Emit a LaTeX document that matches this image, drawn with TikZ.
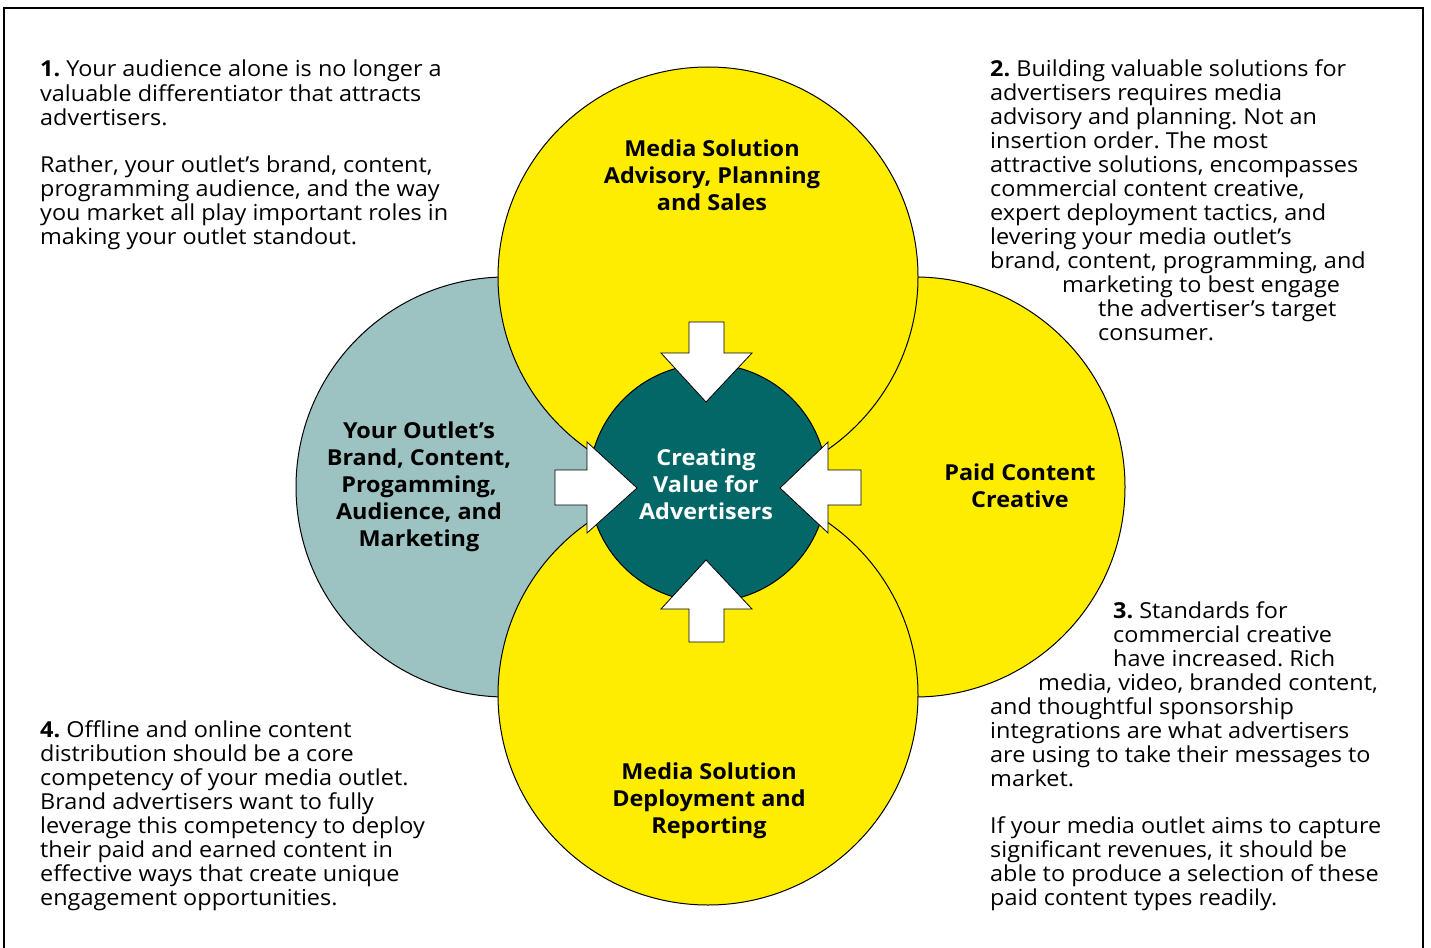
\documentclass[tikz,border=0pt]{standalone}
\usepackage{fontspec}
\setmainfont{Open Sans}[FakeStretch=1.065]
\frenchspacing
\definecolor{ylw}{HTML}{FFED00}
\definecolor{lteal}{HTML}{9CC2C2}
\definecolor{dteal}{HTML}{046767}
\tikzset{
  bigcirc/.style={circle, draw=black, line width=1pt, minimum size=420pt, inner sep=0pt},
  body/.style={font=\fontsize{22}{24}\selectfont, inner sep=0pt, anchor=base west},
  lbl/.style={font=\fontsize{22}{27}\selectfont\bfseries, inner sep=0pt, anchor=base},
  blockarrow/.style={draw=black, fill=white, line width=0.8pt, line join=miter},
}
\newcommand{\tl}[1]{\begin{tabular}[t]{@{}l@{}}#1\end{tabular}}
\newcommand{\tc}[1]{\begin{tabular}[t]{@{}c@{}}#1\end{tabular}}
\begin{document}
\begin{tikzpicture}[x=1pt,y=-1pt]
\useasboundingbox (0,0) rectangle (1431,947);
\fill[white] (0,0) rectangle (1431,947);
\draw[line width=1.3pt] (4,960) -- (4,8) -- (1423,8) -- (1423,960);

\node[bigcirc, fill=lteal] (leftc) at (506,487) {};
\node[bigcirc, fill=ylw] (rightc) at (915,487) {};
\node[bigcirc, fill=ylw] (topc) at (708,277) {};
\node[bigcirc, fill=ylw] (botc) at (708,695) {};
\node[circle, draw=black, line width=1pt, fill=dteal, minimum size=238pt, inner sep=0pt] (centc) at (708,483) {};

\draw[blockarrow] (689,322) -- (724,322) -- (724,353) -- (752,353) -- (706,402) -- (661,353) -- (689,353) -- cycle;
\draw[blockarrow] (689,642) -- (724,642) -- (724,609) -- (752,609) -- (706,560) -- (661,609) -- (689,609) -- cycle;
\draw[blockarrow] (555,470) -- (587,470) -- (587,442) -- (637,488) -- (587,533) -- (587,505) -- (555,505) -- cycle;
\draw[blockarrow] (861,470) -- (828,470) -- (828,442) -- (780,488) -- (828,533) -- (828,505) -- (861,505) -- cycle;

\node[lbl] (toplbl) at (712,157) {\tc{Media Solution\\Advisory, Planning\\and Sales}};
\node[lbl] (leftlbl) at (419,438) {\tc{Your Outlet’s\\Brand, Content,\\Progamming,\\Audience, and\\Marketing}};
\node[lbl] (rightlbl) at (1020,480) {\tc{Paid Content\\Creative}};
\node[lbl] (botlbl) at (709,779) {\tc{Media Solution\\Deployment and\\Reporting}};
\node[lbl, text=white] (centlbl) at (706,465) {\tc{Creating\\Value for\\Advertisers}};

\node[body] (p1) at (40,77) {\tl{\textbf{1.} Your audience alone is no longer a\\valuable differentiator that attracts\\advertisers.}};
\node[body] (p1b) at (40,172) {\tl{Rather, your outlet’s brand, content,\\programming audience, and the way\\you market all play important roles in\\making your outlet standout.}};
\node[body] (p2) at (990,77) {\tl{\textbf{2.} Building valuable solutions for\\advertisers requires media\\advisory and planning. Not an\\insertion order. The most\\attractive solutions, encompasses\\commercial content creative,\\expert deployment tactics, and\\levering your media outlet’s\\brand, content, programming, and\\\hspace*{72pt}marketing to best engage\\\hspace*{108pt}the advertiser’s target\\\hspace*{108pt}consumer.}};
\node[body] (p3) at (990,618) {\tl{\hspace*{123pt}\textbf{3.} Standards for\\\hspace*{123pt}commercial creative\\\hspace*{123pt}have increased. Rich\\\hspace*{48pt}media, video, branded content,\\and thoughtful sponsorship\\integrations are what advertisers\\are using to take their messages to\\market.}};
\node[body] (p3b) at (990,833) {\tl{If your media outlet aims to capture\\significant revenues, it should be\\able to produce a selection of these\\paid content types readily.}};
\node[body] (p4) at (40,737) {\tl{\textbf{4.} Offline and online content\\distribution should be a core\\competency of your media outlet.\\Brand advertisers want to fully\\leverage this competency to deploy\\their paid and earned content in\\effective ways that create unique\\engagement opportunities.}};
\end{tikzpicture}
\end{document}
